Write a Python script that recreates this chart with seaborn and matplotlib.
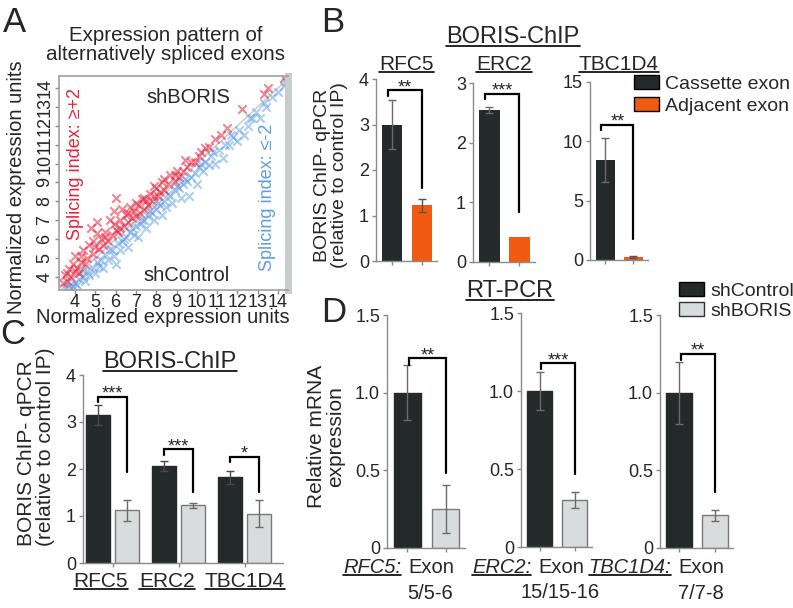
import matplotlib
matplotlib.use('Agg')
import matplotlib.pyplot as plt
from matplotlib.lines import Line2D
from matplotlib.patches import Patch
import matplotlib.transforms as mtransforms
import seaborn as sns
import pandas as pd

sns.set_style('ticks')
plt.rcParams['font.family'] = ['Liberation Sans', 'DejaVu Sans']

# ---- data ----
# A: exon expression, shControl (x) vs shBORIS (y)
up_x = [3.4, 3.5, 3.6, 3.7, 3.8, 3.9, 4.0, 4.0, 4.1, 4.2, 4.3, 4.4, 4.5, 4.6, 4.7, 4.8, 4.9, 5.0,
        5.1, 5.1, 5.2, 5.3, 5.4, 5.5, 5.6, 5.7, 5.8, 5.9, 6.0, 6.0, 6.1, 6.2, 6.3, 6.4, 6.5, 6.6,
        6.7, 6.8, 6.9, 7.0, 7.1, 7.2, 7.3, 7.4, 7.5, 7.6, 7.7, 7.8, 7.9, 8.0, 8.1, 8.2, 8.3, 8.4,
        8.6, 8.7, 8.9, 9.0, 9.1, 9.3, 9.5, 9.7, 9.9, 10.1, 10.4, 10.6, 10.9, 11.5, 12.2, 13.3,
        13.5, 14.3, 3.6, 4.3, 4.9, 5.5, 5.9, 6.2, 6.6, 7.0, 7.4, 7.9, 8.4, 8.9, 9.4, 10.2, 11.2]
up_y = [3.7, 4.1, 3.8, 4.4, 4.0, 4.7, 4.3, 5.1, 4.5, 4.2, 4.8, 5.4, 4.7, 5.0, 5.7, 6.6, 5.2, 5.6,
        6.3, 6.9, 5.5, 6.0, 5.7, 6.4, 5.9, 7.0, 6.2, 7.5, 6.5, 8.2, 6.4, 7.0, 7.6, 6.7, 7.3, 6.9,
        7.7, 7.1, 7.5, 7.2, 7.8, 7.4, 8.1, 7.6, 8.0, 7.8, 8.4, 8.0, 8.3, 8.7, 8.3, 8.5, 9.0, 8.6,
        8.9, 9.4, 9.1, 9.6, 9.3, 9.6, 9.8, 10.1, 10.1, 10.4, 10.8, 10.9, 11.3, 11.9, 12.9, 13.7,
        14.0, 14.5, 4.2, 5.1, 5.9, 6.1, 6.8, 6.6, 7.4, 7.9, 8.2, 8.8, 9.2, 9.4, 10.2, 10.6, 11.5]
down_x = [3.5, 3.7, 3.8, 4.0, 4.1, 4.2, 4.4, 4.5, 4.6, 4.7, 4.9, 5.0, 5.1, 5.3, 5.4, 5.5, 5.6, 5.8,
          5.9, 6.0, 6.1, 6.2, 6.3, 6.5, 6.6, 6.7, 6.9, 7.0, 7.1, 7.2, 7.4, 7.5, 7.6, 7.8, 7.9, 8.0,
          8.2, 8.3, 8.4, 8.5, 8.7, 8.8, 8.9, 9.1, 9.2, 9.3, 9.5, 9.6, 9.7, 9.9, 10.0, 10.1, 10.3,
          10.4, 10.6, 10.7, 10.9, 11.1, 11.3, 11.4, 11.6, 11.8, 12.0, 12.1, 12.3, 12.5, 12.7, 12.9,
          13.1, 13.4, 13.7, 14.0, 14.3, 14.4, 3.9, 4.4, 5.2, 5.7, 6.4, 6.8, 7.3, 7.7, 8.1, 8.6,
          9.0, 9.4, 10.2, 10.8, 11.7, 12.6, 13.3]
down_y = [3.4, 3.5, 3.4, 3.7, 3.6, 3.9, 4.0, 3.8, 4.3, 4.1, 4.5, 4.2, 4.8, 4.9, 4.5, 5.2, 4.9, 5.4,
          5.1, 4.7, 5.8, 5.4, 5.9, 6.1, 5.6, 6.4, 6.2, 6.7, 6.1, 6.8, 7.0, 6.6, 7.2, 7.4, 7.0, 7.6,
          7.8, 7.3, 8.0, 7.7, 8.3, 7.9, 8.6, 8.7, 8.2, 8.9, 9.1, 8.3, 9.3, 9.5, 8.9, 9.8, 9.6,
          10.1, 9.9, 10.4, 10.0, 10.7, 10.3, 11.0, 11.0, 11.4, 11.2, 11.8, 11.5, 12.0, 12.4, 12.7,
          12.4, 13.0, 13.5, 13.8, 14.1, 14.3, 3.5, 4.3, 4.6, 5.5, 6.0, 6.6, 7.0, 7.5, 7.9, 8.4,
          8.8, 9.2, 10.0, 10.6, 11.5, 12.4, 13.2]

genes = ['RFC5', 'ERC2', 'TBC1D4']

# B: BORIS ChIP, cassette vs adjacent exon
b_cassette = [3.0, 2.55, 8.4]
b_cassette_err = [0.53, 0.05, 1.85]
b_adjacent = [1.22, 0.42, 0.25]
b_adjacent_err = [0.15, 0.0, 0.12]
b_stars = ['**', '***', '**']
b_ymax = [4, 3, 15]
b_yticks = [[0, 1, 2, 3, 4], [0, 1, 2, 3], [0, 5, 10, 15]]
b_bracket = [(3.75, 1.6), (2.82, 0.84), (11.4, 1.8)]

# C: BORIS ChIP, shControl vs shBORIS
c_control = [3.15, 2.06, 1.82]
c_control_err = [0.22, 0.10, 0.14]
c_boris = [1.12, 1.23, 1.05]
c_boris_err = [0.22, 0.05, 0.28]
c_stars = ['***', '***', '*']
c_bracket = [(3.54, 1.94), (2.42, 1.51), (2.26, 1.51)]

# D: RT-PCR
d_exons = ['5/5-6', '15/15-16', '7/7-8']
d_control = [1.0, 1.0, 1.0]
d_control_err = [0.175, 0.12, 0.2]
d_boris = [0.25, 0.30, 0.21]
d_boris_err = [0.155, 0.05, 0.035]
d_stars = ['**', '***', '**']
d_bracket = [(1.22, 0.48), (1.18, 0.47), (1.25, 0.36)]

DARK = '#242929'
ORANGE = '#f05a12'
LIGHT = '#d9dcdc'
RED = '#e8213c'
BLUE = '#5d9de3'
GREY = '#8a8a8a'

W, H = 793, 608
fig = plt.figure(figsize=(W / 100, H / 100), dpi=100)


def rect(l, t, r, b):
    return [l / W, 1 - b / H, (r - l) / W, (b - t) / H]


def ftext(x, y, s, **kw):
    return fig.text(x / W, 1 - y / H, s, **kw)


def style_bars(ax):
    sns.despine(ax=ax)
    for s in ['left', 'bottom']:
        ax.spines[s].set_color(GREY)
        ax.spines[s].set_linewidth(1)
    ax.tick_params(length=3, width=1, color=GREY, labelsize=13, pad=2)
    ax.set_xlabel('')
    ax.set_ylabel('')


def errs(ax, xs, ys, es, color):
    ax.errorbar(xs, ys, yerr=es, fmt='none', ecolor=color, elinewidth=1, capsize=3, capthick=1)


def bracket(ax, x0, x1, top, bottom, stars, leg):
    ax.plot([x0, x0, x1, x1], [top - leg, top, top, bottom], color='black', lw=1.6,
            solid_joinstyle='miter', clip_on=False)
    ax.annotate(stars, ((x0 + x1) / 2, top), xytext=(0, -1.5), textcoords='offset points',
                ha='center', va='baseline', fontsize=13)


def bar_centers(ax):
    return [p.get_x() + p.get_width() / 2 for p in ax.patches]


underlined = []

# ---- A ----
axA = fig.add_axes(rect(59, 76, 288, 290))
axA.axline((4, 4), slope=1, color='#cfcfcf', lw=1.2, zorder=0)
sns.scatterplot(x=down_x, y=down_y, marker='x', color=BLUE, s=36, linewidth=1.5, alpha=0.5, ax=axA)
sns.scatterplot(x=up_x, y=up_y, marker='x', color=RED, s=36, linewidth=1.5, alpha=0.55, ax=axA)
axA.set_xlim(3.21, 14.49)
axA.set_ylim(3.31, 14.63)
axA.set_xticks(range(4, 15))
axA.set_yticks(range(4, 15))
axA.set_yticklabels([str(v) for v in range(4, 15)], rotation=90, va='center')
axA.tick_params(length=3, width=1, color=GREY, labelsize=13, pad=1)
axA.tick_params(axis='x', pad=0)
for s in ['left', 'bottom', 'top']:
    axA.spines[s].set_color('#a0a0a0')
    axA.spines[s].set_linewidth(1.2)
axA.spines['right'].set_color('#c7cccc')
axA.spines['right'].set_linewidth(5)
axA.text(9.57, 13.47, 'shBORIS', fontsize=14.5, ha='center', va='center')
axA.text(9.48, 4.1, 'shControl', fontsize=14.5, ha='center', va='center')
axA.text(4.0, 9.98, 'Splicing index: \u2265+2', color=RED, fontsize=13, rotation=90,
         ha='center', va='center')
axA.text(13.5, 8.23, 'Splicing index: \u2264-2', color=BLUE, fontsize=13, rotation=90,
         ha='center', va='center')
axA.set_xlabel('Normalized expression units', fontsize=14.5)
axA.set_ylabel('Normalized expression units', fontsize=14.5)
axA.xaxis.set_label_coords(0.455, -0.085)
axA.yaxis.set_label_coords(-0.145, 0.48)
ftext(166, 45, 'Expression pattern of\nalternatively spliced exons', fontsize=14.8,
      ha='center', va='center', linespacing=1.05)

# ---- B ----
b_rects = [rect(376, 79, 437, 261), rect(473, 83, 535, 262), rect(590, 82, 648, 260)]
for i, g in enumerate(genes):
    ax = fig.add_axes(b_rects[i])
    df = pd.DataFrame({'exon': ['Cassette exon', 'Adjacent exon'],
                       'val': [b_cassette[i], b_adjacent[i]]})
    sns.barplot(data=df, x='exon', y='val', hue='exon', palette=[DARK, ORANGE], width=0.69,
                saturation=1, errorbar=None, legend=False, linewidth=0, ax=ax)
    xs = bar_centers(ax)
    errs(ax, [xs[0]], [b_cassette[i]], [b_cassette_err[i]], '#6a6a6a')
    if b_adjacent_err[i] > 0:
        errs(ax, [xs[1]], [b_adjacent[i]], [b_adjacent_err[i]], '#555555')
    bracket(ax, xs[0] - 0.15, xs[1], b_bracket[i][0], b_bracket[i][1], b_stars[i], b_ymax[i] * 0.03)
    ax.set_ylim(0, b_ymax[i])
    ax.set_yticks(b_yticks[i])
    ax.set_xlim(-0.55, 1.52)
    ax.set_xticks([0, 1])
    ax.set_xticklabels(['', ''])
    style_bars(ax)
    pos = ax.get_position()
    t = fig.text(pos.x0 + pos.width / 2, 1 - 70 / H, g, fontsize=15, ha='center', va='baseline')
    underlined.append(t)
    if i == 0:
        ax.set_ylabel('BORIS ChIP- qPCR\n(relative to control IP)', fontsize=14, linespacing=1.0)
        ax.yaxis.set_label_coords(-0.46, 0.47)

underlined.append(ftext(513, 43, 'BORIS-ChIP', fontsize=17, ha='center', va='baseline'))
fig.legend(handles=[Patch(fc=DARK, ec='black', lw=1), Patch(fc=ORANGE, ec='black', lw=1)],
           labels=['Cassette exon', 'Adjacent exon'], loc='upper left',
           bbox_to_anchor=(634 / W, 1 - 75 / H), frameon=False, fontsize=14,
           handlelength=1.3, handleheight=0.75, handletextpad=0.3, labelspacing=0.2,
           borderpad=0, borderaxespad=0)

# ---- C ----
axC = fig.add_axes(rect(83, 375, 283, 563))
dfc = pd.DataFrame({'gene': genes * 2,
                    'cond': ['shControl'] * 3 + ['shBORIS'] * 3,
                    'val': c_control + c_boris})
sns.barplot(data=dfc, x='gene', y='val', hue='cond', palette=[DARK, LIGHT], width=0.88, gap=0.17,
            saturation=1, errorbar=None, legend=False, linewidth=1, edgecolor='#7a7a7a', ax=axC)
for p in axC.patches[:3]:
    p.set_edgecolor(DARK)
cx = bar_centers(axC)
errs(axC, cx[:3], c_control, c_control_err, '#4a4a4a')
errs(axC, cx[3:], c_boris, c_boris_err, '#6a6a6a')
for i in range(3):
    bracket(axC, cx[i], cx[3 + i], c_bracket[i][0], c_bracket[i][1], c_stars[i], 0.12)
axC.set_ylim(0, 4)
axC.set_yticks([0, 1, 2, 3, 4])
axC.set_xlim(-0.45, 2.58)
style_bars(axC)
axC.set_xticks([0, 1, 2])
axC.set_xticklabels(['', '', ''])
trC = mtransforms.blended_transform_factory(axC.transData, axC.transAxes)
for i, off in enumerate([-0.18, -0.18, 0.0]):
    underlined.append(axC.text(i + off, -0.05, genes[i], transform=trC, fontsize=15,
                               ha='center', va='top'))
axC.set_ylabel('BORIS ChIP- qPCR\n(relative to control IP)', fontsize=15, linespacing=1.0,
               multialignment='left')
axC.yaxis.set_label_coords(-0.14, 0.62)
underlined.append(ftext(170, 368, 'BORIS-ChIP', fontsize=17, ha='center', va='baseline'))

# ---- D ----
d_rects = [rect(387, 315, 465, 548), rect(521, 313, 592, 547), rect(660, 315, 733, 548)]
exon_texts = []
gene_texts = []
for i, g in enumerate(genes):
    ax = fig.add_axes(d_rects[i])
    df = pd.DataFrame({'cond': ['shControl', 'shBORIS'], 'val': [d_control[i], d_boris[i]]})
    sns.barplot(data=df, x='cond', y='val', hue='cond', palette=[DARK, LIGHT], width=0.7,
                saturation=1, errorbar=None, legend=False, linewidth=1, edgecolor='#7a7a7a', ax=ax)
    ax.patches[0].set_edgecolor(DARK)
    xs = bar_centers(ax)
    errs(ax, [xs[0]], [d_control[i]], [d_control_err[i]], '#6a6a6a')
    errs(ax, [xs[1]], [d_boris[i]], [d_boris_err[i]], '#6a6a6a')
    bracket(ax, xs[0] + 0.05, xs[1], d_bracket[i][0], d_bracket[i][1], d_stars[i], 0.04)
    ax.set_ylim(0, 1.5)
    ax.set_yticks([0, 0.5, 1.0, 1.5])
    ax.set_yticklabels(['0', '0.5', '1.0', '1.5'])
    ax.set_xlim(-0.53, 1.5)
    ax.set_xticks([0, 1])
    ax.set_xticklabels(['', ''])
    style_bars(ax)
    tr = mtransforms.blended_transform_factory(ax.transData, ax.transAxes)
    et = ax.text(0.62, -0.045, 'Exon', transform=tr, fontsize=14.5, ha='center', va='top')
    ax.text(0.6, -0.155, d_exons[i], transform=tr, fontsize=14.5, ha='center', va='top')
    gt = ax.text(0.6, -0.045, g + ':', transform=tr, fontsize=14.5, style='italic',
                 ha='right', va='top')
    exon_texts.append(et)
    gene_texts.append(gt)
    if i == 0:
        ax.set_ylabel('Relative mRNA\nexpression', fontsize=15, linespacing=1.0)
        ax.yaxis.set_label_coords(-0.54, 0.48)

underlined.append(ftext(510, 297, 'RT-PCR', fontsize=17, ha='center', va='baseline'))
fig.legend(handles=[Patch(fc=DARK, ec='black', lw=1), Patch(fc=LIGHT, ec='#333333', lw=1)],
           labels=['shControl', 'shBORIS'], loc='upper left',
           bbox_to_anchor=(679 / W, 1 - 282 / H), frameon=False, fontsize=14,
           handlelength=1.3, handleheight=0.75, handletextpad=0.3, labelspacing=0.1,
           borderpad=0, borderaxespad=0)

# panel letters
for letter, x, y in [('A', 14, 22), ('B', 333, 22), ('C', 13, 335), ('D', 334, 313)]:
    ftext(x, y, letter, fontsize=25, ha='center', va='center')

# position gene names left of the "Exon" labels, then underline
fig.canvas.draw()
renderer = fig.canvas.get_renderer()
for et, gt in zip(exon_texts, gene_texts):
    bb = et.get_window_extent(renderer)
    x_data = gt.axes.transData.inverted().transform((bb.x0 - 7, 0))[0]
    gt.set_x(x_data)
    underlined.append(gt)
fig.canvas.draw()
for t in underlined:
    bb = t.get_window_extent(renderer)
    y = (bb.y0 + 2) / fig.bbox.height
    fig.add_artist(Line2D([bb.x0 / fig.bbox.width, bb.x1 / fig.bbox.width], [y, y],
                          transform=fig.transFigure, color='black', lw=1.2))

fig.savefig('out.png', dpi=100)
